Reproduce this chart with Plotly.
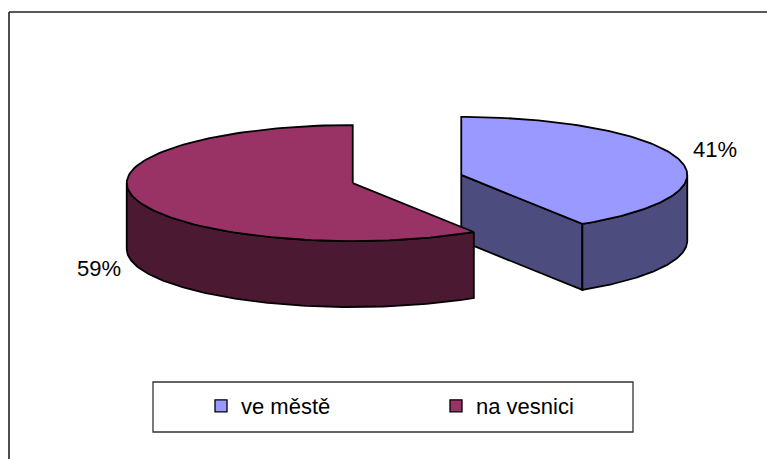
import numpy as np
import plotly.graph_objects as go

# ---- data ----
categories = ["ve městě", "na vesnici"]
values = [41, 59]
top_colors = ["#9999FF", "#993366"]
side_colors = ["#4C4C7F", "#4C1933"]

# ---- geometry / style constants ----
W, H = 767, 459
CX, CY = 407.0, 179.0      # pie centre (px)
RA, RB = 226.0, 58.0       # ellipse semi-axes (px)
THICK = 66.0               # pie depth (px)
EXPLODE = 0.25             # explosion, fraction of radius
FONT = "Liberation Sans, Arial, sans-serif"
OUTLINE = dict(color="black", width=1.8)

total = float(sum(values))
fracs = [v / total for v in values]

# slice angle ranges (math convention, degrees), clockwise from 12 o'clock
ranges = []
start = 90.0
for f in fracs:
    end = start - 360.0 * f
    ranges.append((start, end))
    start = end


def pt(cx, cy, phi_deg, dy=0.0):
    p = np.radians(phi_deg)
    return cx + RA * np.cos(p), cy - RB * np.sin(p) + dy


def arc(cx, cy, a0, a1, dy=0.0, n=120):
    ph = np.linspace(a0, a1, n)
    xs, ys = pt(cx, cy, ph, dy)
    return list(xs), list(ys)


fig = go.Figure()


def poly(xs, ys, color):
    fig.add_trace(go.Scatter(
        x=xs + [xs[0]], y=ys + [ys[0]], mode="lines", fill="toself",
        fillcolor=color, line=OUTLINE, showlegend=False, hoverinfo="skip"))


slice_geo = []
for i, (a_start, a_end) in enumerate(ranges):
    mid = np.radians((a_start + a_end) / 2.0)
    cx = CX + RA * EXPLODE * np.cos(mid)
    cy = CY - RB * EXPLODE * np.sin(mid)
    slice_geo.append((cx, cy, a_start, a_end, mid))

# painter's order: back slice (first, exploded up-right) then front slice
for i, (cx, cy, a_start, a_end, mid) in enumerate(slice_geo):
    side = side_colors[i]
    # radial cut faces
    if np.cos(np.radians(a_start)) < -1e-9:
        ex, ey = pt(cx, cy, a_start)
        poly([cx, ex, ex, cx], [cy, ey, ey + THICK, cy + THICK], side)
    if np.cos(np.radians(a_end)) > 1e-9:
        ex, ey = pt(cx, cy, a_end)
        poly([cx, ex, ex, cx], [cy, ey, ey + THICK, cy + THICK], side)
    # curved outer side (front half only)
    for k in (-1, 0, 1):
        lo = max(a_end, -180.0 + 360.0 * k)
        hi = min(a_start, 0.0 + 360.0 * k)
        if hi > lo:
            tx, ty = arc(cx, cy, hi, lo)
            bx, by = arc(cx, cy, lo, hi, THICK)
            poly(tx + bx, ty + by, side)
    # top face
    tx, ty = arc(cx, cy, a_start, a_end)
    poly([cx] + tx, [cy] + ty, top_colors[i])

# percentage labels
for i, (cx, cy, a_start, a_end, mid) in enumerate(slice_geo):
    lx = cx + RA * 1.167 * np.cos(mid)
    ly = cy - RB * 1.4 * np.sin(mid) - 3 + (THICK if np.sin(mid) < 0 else 0)
    fig.add_annotation(x=lx, y=ly, xref="x", yref="y", showarrow=False,
                       text=f"{round(fracs[i] * 100)}%",
                       font=dict(family=FONT, size=22, color="black"),
                       xanchor="center", yanchor="middle")

# legend entries (one legend per entry for exact placement)
legend_names = ["legend", "legend2"]
legend_left = [201, 436]
for i, name in enumerate(categories):
    fig.add_trace(go.Scatter(
        x=[None], y=[None], mode="markers", name=name,
        marker=dict(symbol="square", size=12, color=top_colors[i],
                    line=dict(color="black", width=1.3)),
        legend=legend_names[i], showlegend=True))

leg_common = dict(orientation="h", yanchor="middle", xanchor="left",
                  bgcolor="rgba(0,0,0,0)", borderwidth=0,
                  font=dict(family=FONT, size=22, color="black"),
                  itemwidth=30)

fig.update_layout(
    width=W, height=H, margin=dict(l=0, r=0, t=0, b=0),
    paper_bgcolor="white", plot_bgcolor="white",
    xaxis=dict(range=[0, W], visible=False, fixedrange=True),
    yaxis=dict(range=[H, 0], visible=False, fixedrange=True),
    legend=dict(x=legend_left[0] / W, y=1 - 406 / H, **leg_common),
    legend2=dict(x=legend_left[1] / W, y=1 - 406 / H, **leg_common),
    shapes=[
        # outer chart area border (top and left edges visible)
        dict(type="line", xref="paper", yref="paper",
             x0=9 / W, x1=1.0, y0=1 - 12 / H, y1=1 - 12 / H,
             line=dict(color="#222222", width=1.6), layer="below"),
        dict(type="line", xref="paper", yref="paper",
             x0=9 / W, x1=9 / W, y0=0.0, y1=1 - 12 / H,
             line=dict(color="#222222", width=1.6), layer="below"),
        # legend box
        dict(type="rect", xref="paper", yref="paper",
             x0=153 / W, x1=633 / W, y0=1 - 432 / H, y1=1 - 382 / H,
             line=dict(color="#333333", width=1.3), fillcolor="rgba(0,0,0,0)",
             layer="below"),
    ],
    showlegend=True,
)

fig.write_html(
    "out.html",
    config={"displayModeBar": False},
    post_script=("document.body.style.margin='0';"
                 "document.body.style.overflow='hidden';"
                 "document.documentElement.style.overflow='hidden';"),
)
